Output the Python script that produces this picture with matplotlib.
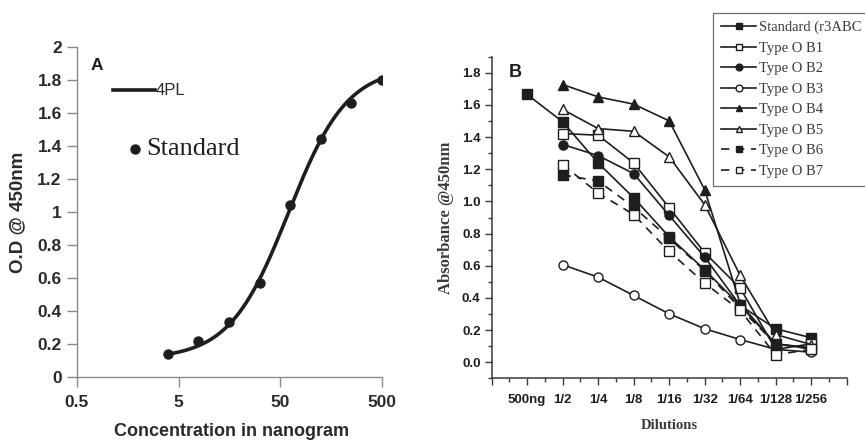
import matplotlib

matplotlib.use("Agg")

import matplotlib.pyplot as plt  # noqa: E402
import numpy as np  # noqa: E402
from matplotlib.ticker import FixedLocator, NullFormatter, NullLocator  # noqa: E402

SANS = "Liberation Sans"
SERIF = "Liberation Serif"
INK = "#1e1e1e"

# ---- panel A: standard curve ----
std_conc = [3.9, 7.8, 15.6, 31.25, 62.5, 125, 250, 500]
std_od = [0.141, 0.218, 0.333, 0.572, 1.046, 1.444, 1.661, 1.802]
# 4PL fit: bottom, top, EC50, hill slope
fit_bottom, fit_top, fit_ec50, fit_hill = 0.11, 1.88, 60.0, 1.5
a_xticks = [0.5, 5, 50, 500]
a_xticklabels = ["0.5", "5", "50", "500"]
a_yticks = [0, 0.2, 0.4, 0.6, 0.8, 1, 1.2, 1.4, 1.6, 1.8, 2]
a_yticklabels = ["0", "0.2", "0.4", "0.6", "0.8", "1", "1.2", "1.4", "1.6", "1.8", "2"]

# ---- panel B: dilution series ----
dilutions = ["500ng", "1/2", "1/4", "1/8", "1/16", "1/32", "1/64", "1/128", "1/256"]
standard_r3abc = [1.665, 1.495, 1.239, 1.023, 0.780, 0.575, 0.353, 0.208, 0.152]
type_o_b1 = [1.422, 1.412, 1.239, 0.961, 0.681, 0.461, 0.080, 0.114]
type_o_b2 = [1.354, 1.285, 1.173, 0.913, 0.654, 0.353, 0.114, 0.083]
type_o_b3 = [0.606, 0.529, 0.415, 0.301, 0.208, 0.141, 0.080, 0.062]
type_o_b4 = [1.727, 1.650, 1.605, 1.501, 1.073, 0.363, 0.114, 0.090]
type_o_b5 = [1.572, 1.453, 1.436, 1.277, 0.980, 0.540, 0.172, 0.110]
type_o_b6 = [1.165, 1.127, 0.965, 0.770, 0.570, 0.335, 0.114, 0.083]
type_o_b7 = [1.229, 1.052, 0.918, 0.689, 0.492, 0.322, 0.046, 0.080]

series_b = [
    ("Standard (r3ABC", standard_r3abc, "s", INK, "-"),
    ("Type O B1", type_o_b1, "s", "white", "-"),
    ("Type O B2", type_o_b2, "o", INK, "-"),
    ("Type O B3", type_o_b3, "o", "white", "-"),
    ("Type O B4", type_o_b4, "^", INK, "-"),
    ("Type O B5", type_o_b5, "^", "white", "-"),
    ("Type O B6", type_o_b6, "s", INK, (0, (5, 4))),
    ("Type O B7", type_o_b7, "s", "white", (0, (5, 4))),
]

fig = plt.figure(figsize=(8.65, 4.41), dpi=100)

# ---------------- panel A ----------------
ax = fig.add_axes([0.089, 0.145, 0.3526, 0.748])
xx = np.geomspace(std_conc[0], std_conc[-1], 300)
yy = fit_bottom + (fit_top - fit_bottom) / (1 + (fit_ec50 / xx) ** fit_hill)
ax.plot(xx, yy, "-", color=INK, lw=2.6, solid_capstyle="round")
ax.plot(std_conc, std_od, "o", color=INK, ms=6.5)
ax.set_xscale("log")
ax.set_xlim(0.5, 500)
ax.set_ylim(0, 2)
ax.xaxis.set_major_locator(FixedLocator(a_xticks))
ax.xaxis.set_minor_locator(NullLocator())
ax.xaxis.set_minor_formatter(NullFormatter())
ax.set_xticklabels(a_xticklabels)
ax.set_yticks(a_yticks)
ax.set_yticklabels(a_yticklabels)
for s in ("top", "right"):
    ax.spines[s].set_visible(False)
for s in ("left", "bottom"):
    ax.spines[s].set_color("#8a8a8a")
    ax.spines[s].set_linewidth(1.0)
ax.tick_params(direction="out", length=7, width=1, color="#8a8a8a", pad=4,
               labelsize=12.5, labelcolor="#2a2a2a")
ax.tick_params(axis="x", pad=6)
for lab in ax.get_xticklabels() + ax.get_yticklabels():
    lab.set_fontfamily(SANS)
    lab.set_fontweight("bold")
ax.set_ylabel("O.D @ 450nm", family=SANS, weight="bold", fontsize=13.5,
              color="#2a2a2a", labelpad=8)
fig.text(0.268, 0.002, "Concentration in nanogram", family=SANS, weight="bold",
         fontsize=13, color="#2a2a2a", ha="center", va="bottom")
ax.text(0.045, 0.945, "A", transform=ax.transAxes, family=SANS, weight="bold",
        fontsize=12.5, color=INK, ha="left", va="center")
# hand-made key
ax.plot([0.118, 0.256], [0.870, 0.870], transform=ax.transAxes, color=INK, lw=2.6)
ax.text(0.258, 0.870, "4PL", transform=ax.transAxes, family=SANS, fontsize=12,
        color="#2a2a2a", ha="left", va="center")
ax.plot([0.190], [0.691], "o", transform=ax.transAxes, color=INK, ms=6.5)
ax.text(0.228, 0.691, "Standard", transform=ax.transAxes, family=SERIF,
        fontsize=19, color=INK, ha="left", va="center")

# ---------------- panel B ----------------
bx = fig.add_axes([0.5684, 0.1422, 0.4104, 0.7292])
pos = np.arange(1, len(dilutions) + 1)
for name, vals, mk, fc, ls in series_b:
    xs = pos[:len(vals)] if name.startswith("Standard") else pos[1:1 + len(vals)]
    bx.plot(xs, vals, linestyle=ls, color=INK, lw=1.2, marker=mk, ms=6.5,
            mfc=fc, mec=INK, mew=1.0, label=name)
bx.set_xlim(0, 10)
bx.set_ylim(-0.1, 1.9)
bx.set_xticks(np.arange(0, 11))
bx.set_xticklabels([""] + dilutions + [""])
bx.xaxis.set_minor_locator(FixedLocator(np.arange(0.5, 10, 1.0)))
bx.set_yticks(np.arange(0, 1.81, 0.2))
bx.set_yticklabels([f"{v:.1f}" for v in np.arange(0, 1.81, 0.2)])
bx.yaxis.set_minor_locator(FixedLocator(np.arange(-0.1, 1.91, 0.2)))
for s in ("top", "right"):
    bx.spines[s].set_visible(False)
for s in ("left", "bottom"):
    bx.spines[s].set_color("#3a3a3a")
    bx.spines[s].set_linewidth(1.1)
bx.tick_params(which="major", direction="out", length=5, width=1.0, color="#3a3a3a",
               labelsize=9.5, labelcolor=INK, pad=3)
bx.tick_params(which="minor", direction="out", length=3, width=1.0, color="#3a3a3a")
bx.tick_params(axis="x", pad=6)
for lab in bx.get_xticklabels() + bx.get_yticklabels():
    lab.set_fontfamily(SANS)
    lab.set_fontweight("bold")
bx.set_ylabel("Absorbance @450nm", family=SERIF, weight="bold", fontsize=12,
              color="#3a3a3a", labelpad=6)
bx.set_xlabel("Dilutions", family=SERIF, weight="bold", fontsize=10.5,
              color="#3a3a3a", labelpad=10)
bx.text(0.066, 1.80, "B", transform=bx.get_yaxis_transform(), family=SANS,
        weight="bold", fontsize=13, color=INK, ha="center", va="center")
leg = bx.legend(loc="upper left", bbox_to_anchor=(713.3 / 865, 1 - 12.7 / 441),
                bbox_transform=fig.transFigure, borderaxespad=0, fancybox=False,
                frameon=True, handlelength=2.4, handletextpad=0.15,
                labelspacing=0.5, borderpad=0.55, markerscale=0.75,
                prop={"family": SERIF, "size": 10.5})
leg.get_frame().set_edgecolor("#4a4a4a")
leg.get_frame().set_linewidth(0.9)
for t in leg.get_texts():
    t.set_color("#3a3a3a")

fig.savefig("out.png", dpi=100)
